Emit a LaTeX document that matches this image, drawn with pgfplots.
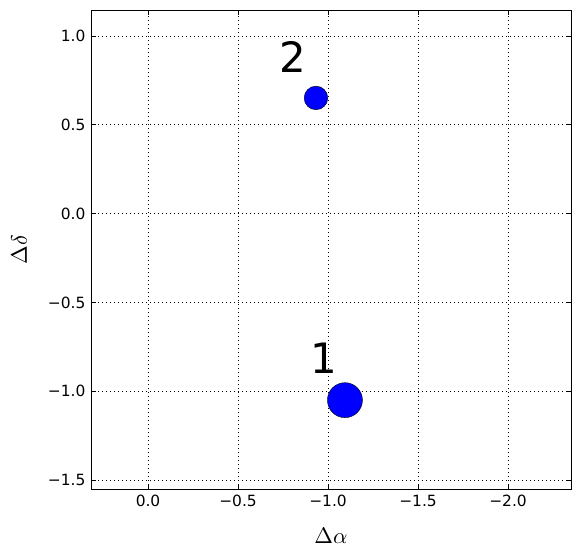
\documentclass[border=0pt]{standalone}
\usepackage{pgfplots}
\pgfplotsset{compat=1.18}
\usepackage{fontspec}
\setmainfont{DejaVu Sans}
\begin{document}
\begin{tikzpicture}
\begin{axis}[
  scale only axis,
  width=480bp, height=479bp,
  x dir=reverse,
  xmin=-2.35, xmax=0.317,
  ymin=-1.55, ymax=1.146,
  xtick={0,-0.5,-1,-1.5,-2},
  xticklabels={0.0,−0.5,−1.0,−1.5,−2.0},
  ytick={-1.5,-1,-0.5,0,0.5,1},
  yticklabels={−1.5,−1.0,−0.5,0.0,0.5,1.0},
  tick align=inside,
  tick pos=both,
  major tick length=5bp,
  tick style={black, line width=0.6pt},
  grid=major,
  major grid style={black, line width=0.6pt, dash pattern=on 1bp off 3bp},
  axis line style={black, line width=0.9pt},
  tick label style={font=\fontsize{15.5}{18}\selectfont},
  xticklabel style={yshift=-3bp},
  yticklabel style={xshift=-2bp},
  xlabel={\scalebox{2.25}{$\Delta\alpha$}},
  ylabel={\scalebox{2.25}{$\Delta\delta$}},
  xlabel style={at={(axis description cs:0.5,-0.097)}, anchor=center},
  ylabel style={at={(axis description cs:-0.15,0.5)}, anchor=center},
]
\addplot[only marks, mark=*, mark size=11.8bp, draw=none, mark options={fill={rgb,255:red,0;green,0;blue,255}, draw=none}]
  coordinates {(-0.933,0.651)};
\addplot[only marks, mark=*, mark size=17.5bp, draw=none, mark options={fill={rgb,255:red,0;green,0;blue,255}, draw=none}]
  coordinates {(-1.094,-1.05)};
\node[font=\fontsize{42}{48}\selectfont, inner sep=0pt] at (axis cs:-0.803,0.882) {2};
\node[font=\fontsize{42}{48}\selectfont, inner sep=0pt] at (axis cs:-0.978,-0.813) {1};
\end{axis}
\pgfresetboundingbox
\useasboundingbox ([shift={(-91bp,-69bp)}]current axis.south west) rectangle ([shift={(489bp,489bp)}]current axis.south west);
\end{tikzpicture}
\end{document}
